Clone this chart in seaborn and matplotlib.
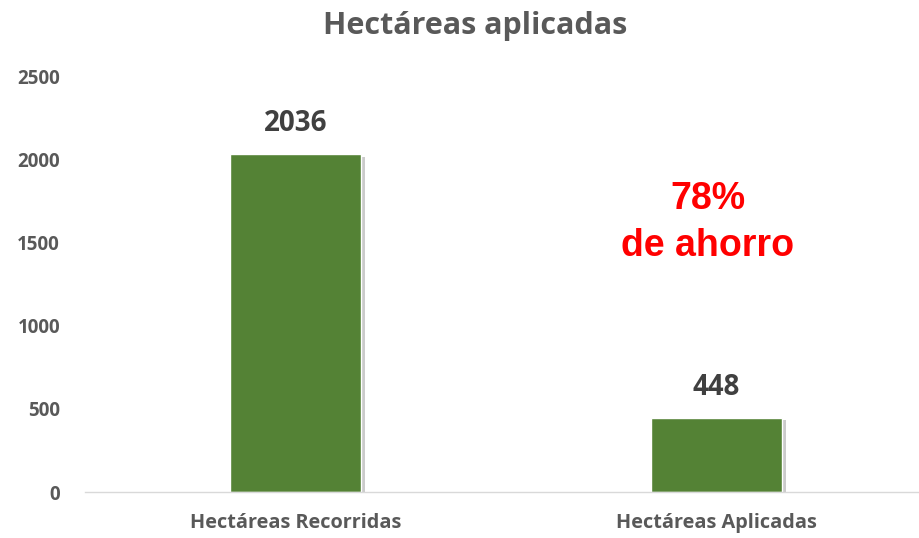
import matplotlib
matplotlib.use('Agg')
import matplotlib.pyplot as plt
import matplotlib.patheffects as pe
import seaborn as sns
import pandas as pd

# data
categories = ['Hectáreas Recorridas', 'Hectáreas Aplicadas']
hectareas = [2036, 448]
ahorro_text = '78%\nde ahorro'

df = pd.DataFrame({'cat': categories, 'val': hectareas})

sns.set_style('white')
plt.rcParams['font.family'] = ['Open Sans', 'DejaVu Sans']

fig = plt.figure(figsize=(9.19, 5.38), dpi=100)
ax = fig.add_axes([0.0925, 0.0855, 0.916, 0.7715])

sns.barplot(data=df, x='cat', y='val', color='#548235', saturation=1,
            width=0.311, ax=ax)

for bar in ax.patches:
    bar.set_path_effects([pe.SimplePatchShadow(offset=(3, -2), shadow_rgbFace='#8c8c8c', alpha=0.45),
                          pe.Normal()])

for i, v in enumerate(hectareas):
    ax.text(i, v + 95, str(v), ha='center', va='bottom', fontsize=20,
            fontweight='bold', color='#404040')

ax.text(0.98, 1625, ahorro_text, ha='center', va='center', fontsize=27,
        fontweight='bold', color='#ff0000', family='Liberation Sans', linespacing=1.4)

ax.set_ylim(0, 2500)
ax.set_yticks([0, 500, 1000, 1500, 2000, 2500])
ax.set_xlim(-0.5, 1.5)
ax.set_xlabel('')
ax.set_ylabel('')
ax.tick_params(axis='y', labelsize=13.5, colors='#595959', length=0, pad=18)
ax.tick_params(axis='x', labelsize=14.3, colors='#595959', length=0, pad=15)
for lbl in ax.get_xticklabels() + ax.get_yticklabels():
    lbl.set_fontweight('bold')

for s in ['top', 'right', 'left']:
    ax.spines[s].set_visible(False)
ax.spines['bottom'].set_color('#d9d9d9')
ax.spines['bottom'].set_linewidth(1)

fig.suptitle('Hectáreas aplicadas', x=0.517, y=0.98, fontsize=22,
             fontweight='bold', color='#595959')

fig.savefig('out.png', dpi=100)
